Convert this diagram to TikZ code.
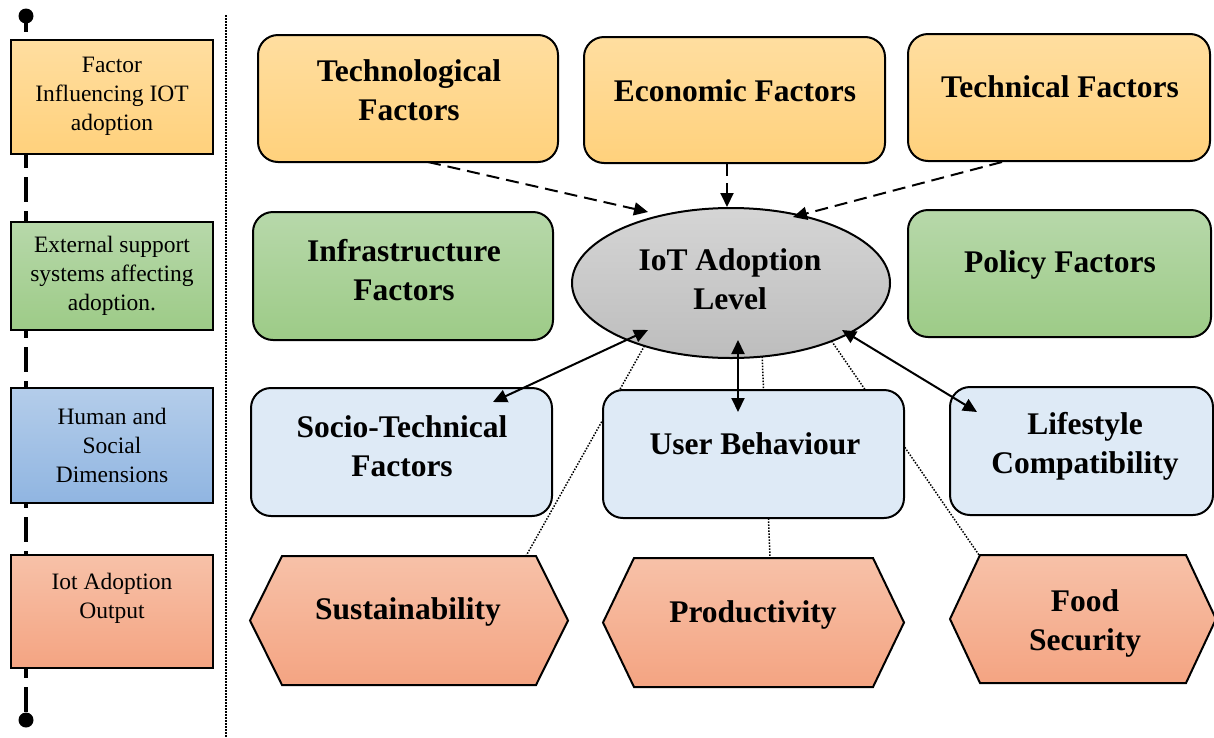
\documentclass[tikz,border=0pt]{standalone}
\usepackage{fontspec}
\setmainfont{Liberation Serif}
\usetikzlibrary{arrows.meta,calc,shapes.geometric,backgrounds}

\definecolor{orgtop}{HTML}{FFDEA0}
\definecolor{orgbot}{HTML}{FFD17C}
\definecolor{grntop}{HTML}{B7D8AA}
\definecolor{grnbot}{HTML}{9DCB87}
\definecolor{bluefill}{HTML}{DEEAF6}
\definecolor{legbtop}{HTML}{B4CDEA}
\definecolor{legbbot}{HTML}{90B5E1}
\definecolor{saltop}{HTML}{F7C1A8}
\definecolor{salbot}{HTML}{F4A482}
\definecolor{graytop}{HTML}{D5D5D5}
\definecolor{graybot}{HTML}{BDBDBD}

\begin{document}
\begin{tikzpicture}[x=1pt,y=-1pt,
  box/.style={draw=black, line width=2pt, rounded corners=20pt, inner sep=0pt, outer sep=0pt},
  orangebox/.style={box, top color=orgtop, bottom color=orgbot},
  greenbox/.style={box, top color=grntop, bottom color=grnbot},
  bluebox/.style={box, fill=bluefill},
  hexbox/.style={rectangle, inner sep=0pt, outer sep=0pt},
  legend/.style={draw=black, line width=1.8pt, inner sep=0pt, outer sep=0pt, minimum width=202pt},
  big/.style={font=\fontsize{31.5}{39}\selectfont\bfseries, align=center, anchor=base, inner sep=0pt},
  small/.style={font=\fontsize{23.5}{29}\selectfont, align=center, anchor=base, inner sep=0pt},
  tip/.tip={Triangle[length=14pt,width=13pt]},
  arr/.style={line width=2pt, tip-tip},
  darr/.style={line width=2pt, dash pattern=on 13pt off 7pt, -tip},
  dotline/.style={line width=1.5pt, dash pattern=on 1.5pt off 1.5pt},
]
\useasboundingbox (0,0) rectangle (1214,737);

% ---------- legend column ----------
\node[legend, top color=orgtop, bottom color=orgbot, minimum height=114pt] (leg1) at (112,97) {};
\node[legend, top color=grntop, bottom color=grnbot, minimum height=108pt] (leg2) at (112,276) {};
\node[legend, top color=legbtop, bottom color=legbbot, minimum height=115pt] (leg3) at (112,445.5) {};
\node[legend, top color=saltop, bottom color=salbot, minimum height=113pt] (leg4) at (112,611.5) {};
\node[circle, fill=black, minimum size=15pt, inner sep=0pt] (dottop) at (26,16) {};
\node[circle, fill=black, minimum size=15pt, inner sep=0pt] (dotbot) at (26,720) {};

\node[small] (leg1-t) at (112,130) {Factor\\Influencing IOT\\adoption};
\node[small] (leg2-t) at (112,310) {External support\\systems affecting\\adoption.};
\node[small] (leg3-t) at (112,482) {Human and\\Social\\Dimensions};
\node[small] (leg4-t) at (112,618) {Iot Adoption\\Output};

\draw[dotline] (226,15) -- (226,737);

% ---------- factor boxes ----------
\node[orangebox, minimum width=300pt, minimum height=127pt] (tech) at (408,98.5) {};
\node[orangebox, minimum width=301pt, minimum height=126pt] (econ) at (734.5,100) {};
\node[orangebox, minimum width=302pt, minimum height=127pt] (techn) at (1059,97.5) {};

\node[greenbox, minimum width=300pt, minimum height=128pt] (infra) at (403,276) {};
\node[ellipse, draw=black, line width=2pt, top color=graytop, bottom color=graybot,
      minimum width=318pt, minimum height=150pt, inner sep=0pt, outer sep=0pt] (ell) at (731,283) {};
\node[greenbox, minimum width=303pt, minimum height=127pt] (policy) at (1059.5,273.5) {};

\node[bluebox, minimum width=301pt, minimum height=128pt] (socio) at (401.5,452) {};
\node[bluebox, minimum width=301pt, minimum height=128pt] (user) at (753.5,454) {};
\node[bluebox, minimum width=263pt, minimum height=128pt] (life) at (1081.5,451) {};

% ---------- output hexagons ----------
\node[hexbox, minimum width=318pt, minimum height=129pt] (sus) at (409,620.5) {};
\node[hexbox, minimum width=301pt, minimum height=129pt] (prod) at (753.5,622.5) {};
\node[hexbox, minimum width=266pt, minimum height=128pt] (food) at (1083,619) {};
\foreach \n/\d in {sus/32,prod/31,food/30}{
  \path[draw=black, line width=2pt, line join=miter, top color=saltop, bottom color=salbot]
    (\n.west) -- ($(\n.north west)+(\d,0)$) -- ($(\n.north east)+(-\d,0)$) -- (\n.east)
    -- ($(\n.south east)+(-\d,0)$) -- ($(\n.south west)+(\d,0)$) -- cycle;
}

% ---------- lines kept behind the boxes ----------
\begin{pgfonlayer}{background}
  \draw[line width=4pt, dash pattern=on 25pt off 9pt, dash phase=9pt] (dottop.center) -- (dotbot.center);
  \draw[dotline] (ell.216) -- ($(sus.north east)+(-42,0)$);
  \draw[dotline] (ell.293.5) -- ($(prod.north)+(16.5,0)$);
  \draw[dotline] (ell.330) -- ($(food.north west)+(29,0)$);
\end{pgfonlayer}

% ---------- labels ----------
\node[big] (tech-t) at (409,120) {Technological\\Factors};
\node[big] (econ-t) at (735,101) {Economic Factors};
\node[big] (techn-t) at (1060,97) {Technical Factors};
\node[big] (infra-t) at (404,300) {Infrastructure\\Factors};
\node[big] (ell-t) at (730,309) {IoT Adoption\\Level};
\node[big] (policy-t) at (1060,272) {Policy Factors};
\node[big] (socio-t) at (402,476) {Socio-Technical\\Factors};
\node[big] (user-t) at (755,454) {User Behaviour};
\node[big] (life-t) at (1085,473) {Lifestyle\\Compatibility};
\node[big] (sus-t) at (408,619) {Sustainability};
\node[big] (prod-t) at (753,622) {Productivity};
\node[big] (food-t) at (1085,650) {Food\\Security};

% ---------- influences on the adoption level ----------
\draw[darr] ($(tech.south)+(20,0)$) -- ($(ell.center)+(-83,-71)$);
\draw[darr] ($(econ.south)+(-7.5,0)$) -- ($(ell.center)+(-4,-76)$);
\draw[darr] ($(techn.south)+(-57,1)$) -- ($(ell.center)+(62,-66)$);

% ---------- two-way links ----------
\draw[arr] ($(socio.center)+(91.5,-50)$) -- ($(ell.center)+(-83,47)$);
\draw[arr] ($(ell.center)+(7,57)$) -- ($(user.center)+(-15.5,-42)$);
\draw[arr] ($(ell.center)+(111,47)$) -- ($(life.center)+(-104.5,-39)$);

\end{tikzpicture}
\end{document}
